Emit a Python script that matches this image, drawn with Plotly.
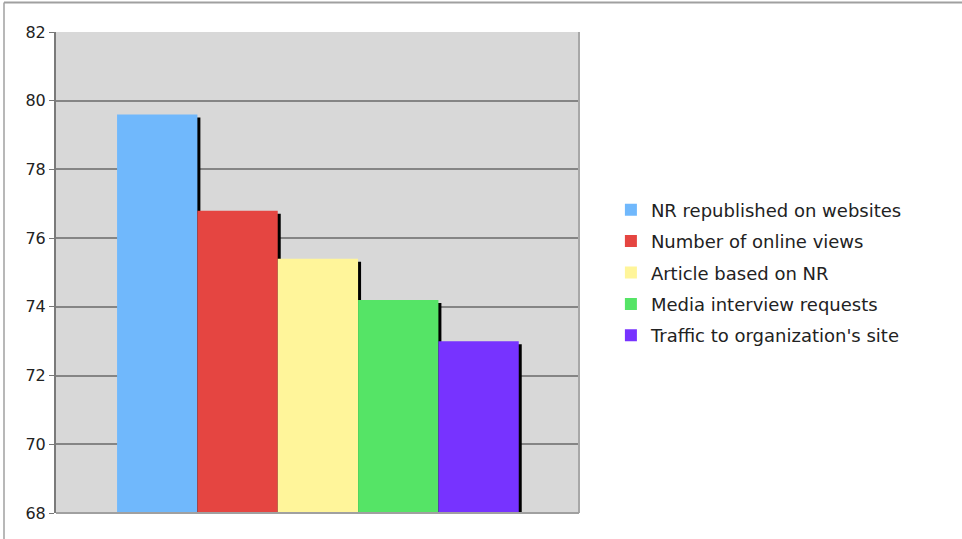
import plotly.graph_objects as go

categories = ["NR republished on websites", "Number of online views", "Article based on NR",
              "Media interview requests", "Traffic to organization's site"]
values = [79.6, 76.8, 75.4, 74.2, 73.0]
colors = ["#70b8fc", "#e54541", "#fff59a", "#55e466", "#7733ff"]
y_ticks = [68, 70, 72, 74, 76, 78, 80, 82]

fig = go.Figure()

# shadow trace (behind)
fig.add_trace(go.Bar(
    x=list(range(len(values))), y=[v - 0.09 for v in values],
    width=1, offset=-0.5 + 3 / 80.4, marker=dict(color="#000000", line=dict(width=0)),
    showlegend=False, hoverinfo="skip"))

for i, (c, v, col) in enumerate(zip(categories, values, colors)):
    fig.add_trace(go.Bar(
        x=[i], y=[v], name=c, width=1, offset=-0.5,
        marker=dict(color=col, line=dict(width=0)),
        legendgroup=c))

fig.update_layout(
    width=962, height=539,
    margin=dict(l=56, r=383, t=32, b=26),
    barmode="overlay",
    paper_bgcolor="#ffffff",
    plot_bgcolor="#d8d8d8",
    font=dict(family="DejaVu Sans", color="#222222"),
    showlegend=True,
    legend=dict(x=1.061, y=0.5, xanchor="left", yanchor="middle",
                font=dict(size=18, family="DejaVu Sans", color="#222222"),
                traceorder="grouped", tracegroupgap=5,
                itemwidth=30, bgcolor="rgba(0,0,0,0)"),
    xaxis=dict(range=[-1.26, 5.25], showticklabels=False, showgrid=False,
               zeroline=False, showline=False, fixedrange=True),
    yaxis=dict(range=[68, 82], tickvals=y_ticks, ticks="outside", ticklen=5,
               tickcolor="#777777", tickwidth=1, tickfont=dict(size=16, color="#222222"),
               showgrid=True, gridcolor="#858585", gridwidth=1.5,
               showline=True, linecolor="#7a7a7a", linewidth=2,
               zeroline=False),
    shapes=[
        dict(type="line", xref="paper", yref="paper", x0=1, x1=1, y0=0, y1=1,
             line=dict(color="#a8a8a8", width=2)),
        dict(type="line", xref="paper", yref="paper", x0=0, x1=1, y0=0, y1=0,
             line=dict(color="#a0a0a0", width=2)),
        dict(type="line", xref="paper", yref="paper", x0=(4 - 56) / 523, x1=(962 - 56) / 523,
             y0=(513 - 2.5) / 481, y1=(513 - 2.5) / 481, line=dict(color="#a0a0a0", width=2)),
        dict(type="line", xref="paper", yref="paper", x0=(4 - 56) / 523, x1=(4 - 56) / 523,
             y0=(513 - 2.5) / 481, y1=(513 - 545) / 481, line=dict(color="#a0a0a0", width=1.5)),
    ],
)

fig.write_html("out.html", config={"displayModeBar": False},
               post_script="document.body.style.margin='0';")
